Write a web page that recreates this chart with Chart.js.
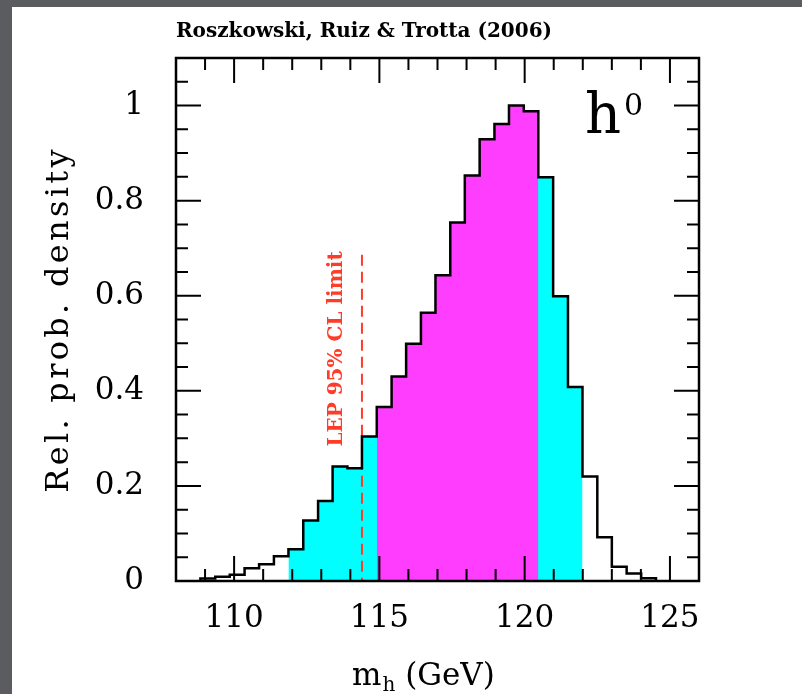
<!DOCTYPE html>
<html>
<head>
<meta charset="utf-8">
<script src="https://cdn.jsdelivr.net/npm/chart.js@4.4.1/dist/chart.umd.min.js"></script>
<style>
html,body{margin:0;padding:0;}
body{width:802px;height:694px;overflow:hidden;background:#5b5c5f;position:relative;}
#panel{position:absolute;left:12px;top:7px;right:0;bottom:0;background:#fff;}
#c{position:absolute;left:0;top:0;}
</style>
</head>
<body>
<div id="panel"></div>
<canvas id="c" width="802" height="694"></canvas>
<script>
// ── DATA ──
// histogram bin edges (GeV) and relative density per bin
const binEdges = [108.84,109.35,109.85,110.36,110.86,111.37,111.87,112.38,112.89,113.39,113.90,
  114.40,114.91,115.42,115.92,116.43,116.93,117.44,117.94,118.45,118.96,119.46,119.97,120.47,
  120.98,121.49,121.99,122.50,123.00,123.51,124.01,124.52];
const density = [0.005,0.009,0.013,0.027,0.035,0.052,0.067,0.127,0.168,0.241,0.237,0.304,
  0.366,0.430,0.499,0.564,0.643,0.754,0.853,0.929,0.961,1.000,0.988,0.849,0.599,0.408,
  0.220,0.092,0.030,0.016,0.006];
const range95 = [111.87, 121.99];   // cyan
const range68 = [114.91, 120.47];   // magenta
const lepLimit = 114.4;
const lepTop = 0.686;

const xMajor = [110,115,120,125];
const xMinor = [109,111,112,113,114,116,117,118,119,121,122,123,124];
const yMajor = [0,0.2,0.4,0.6,0.8,1];
const yMinor = [0.05,0.1,0.15,0.25,0.3,0.35,0.45,0.5,0.55,0.65,0.7,0.75,0.85,0.9,0.95,1.05];

const serif = "'DejaVu Serif', serif";

// ── BUILD STEP SERIES ──
function regionPoints(lo, hi){
  const pts = [];
  for(let i=0;i<density.length;i++){
    if(binEdges[i] >= lo-1e-6 && binEdges[i+1] <= hi+1e-6) pts.push({x:binEdges[i], y:density[i]});
  }
  pts.push({x:hi, y:pts[pts.length-1].y});
  return pts;
}
const outline = [{x:binEdges[0], y:0}];
density.forEach((d,i)=>outline.push({x:binEdges[i], y:d}));
outline.push({x:binEdges[binEdges.length-1], y:0});

// ── DECORATION: frame, inward ticks, labels ──
const decor = {
  id:'decor',
  afterDraw(chart){
    const {ctx, chartArea:a, scales:{x, y}} = chart;
    ctx.save();
    ctx.strokeStyle = '#000';
    ctx.lineWidth = 2;
    ctx.beginPath();
    const xt = (v,len)=>{const p=x.getPixelForValue(v);
      ctx.moveTo(p,a.bottom);ctx.lineTo(p,a.bottom-len);ctx.moveTo(p,a.top);ctx.lineTo(p,a.top+len);};
    const yt = (v,len)=>{const p=y.getPixelForValue(v);
      ctx.moveTo(a.left,p);ctx.lineTo(a.left+len,p);ctx.moveTo(a.right,p);ctx.lineTo(a.right-len,p);};
    xMajor.forEach(v=>xt(v,25)); xMinor.forEach(v=>xt(v,12));
    yMajor.forEach(v=>yt(v,25)); yMinor.forEach(v=>yt(v,12));
    ctx.stroke();
    ctx.lineWidth = 2.5;
    ctx.strokeRect(a.left, a.top, a.right-a.left, a.bottom-a.top);

    ctx.fillStyle = '#000';
    // h0 label
    ctx.textBaseline = 'alphabetic';
    ctx.textAlign = 'left';
    ctx.font = '56px ' + serif;
    ctx.fillText('h', a.right-114, a.top+75);
    ctx.font = '30px ' + serif;
    ctx.fillText('0', a.right-75, a.top+57);

    // x axis title m_h (GeV)
    let xx = a.left+176, yy = a.bottom+104;
    ctx.font = '31px ' + serif;
    ctx.fillText('m', xx, yy); xx += ctx.measureText('m').width;
    ctx.font = '20px ' + serif;
    ctx.fillText('h', xx+1, yy+6); xx += ctx.measureText('h').width+1;
    ctx.font = '31px ' + serif;
    ctx.fillText(' (GeV)', xx, yy);

    // y axis title
    ctx.save();
    ctx.translate(60, (a.top+a.bottom)/2);
    ctx.rotate(-Math.PI/2);
    ctx.textAlign = 'center';
    ctx.textBaseline = 'middle';
    ctx.font = '32px ' + serif;
    ctx.letterSpacing = '3.3px';
    ctx.fillText('Rel. prob. density', 0, 0);
    ctx.restore();

    // LEP label
    ctx.save();
    ctx.translate(x.getPixelForValue(lepLimit)-25, y.getPixelForValue(0.488));
    ctx.rotate(-Math.PI/2);
    ctx.textAlign = 'center';
    ctx.textBaseline = 'middle';
    ctx.fillStyle = '#ff3c28';
    ctx.font = 'bold 20px ' + serif;
    ctx.fillText('LEP 95% CL limit', 0, 0);
    ctx.restore();
    ctx.restore();
  }
};

new Chart(document.getElementById('c'), {
  type:'line',
  data:{
    datasets:[
      {data:outline, stepped:true, borderColor:'#000', borderWidth:2.5, pointRadius:0, fill:false, order:0},
      {data:[{x:lepLimit,y:lepTop},{x:lepLimit,y:0}], borderColor:'#ff3c28', borderWidth:2,
        borderDash:[11,6], pointRadius:0, fill:false, order:1},
      {data:regionPoints(range68[0],range68[1]), stepped:true, borderColor:'transparent', borderWidth:0,
        backgroundColor:'#ff3dff', pointRadius:0, fill:'origin', order:2},
      {data:regionPoints(range95[0],range95[1]), stepped:true, borderColor:'transparent', borderWidth:0,
        backgroundColor:'#00ffff', pointRadius:0, fill:'origin', order:3}
    ]
  },
  options:{
    responsive:false, animation:false, events:[],
    layout:{padding:{left:0,right:103,top:0,bottom:0}},
    plugins:{
      legend:{display:false}, tooltip:{enabled:false},
      title:{display:true, text:'Roszkowski, Ruiz & Trotta (2006)', align:'start', fullSize:false,
        color:'#000', font:{family:serif, size:20, weight:'bold', lineHeight:1.2},
        padding:{top:19.5,bottom:14.5}}
    },
    scales:{
      x:{type:'linear', min:108, max:126,
        grid:{display:false}, border:{display:false},
        afterFit(s){s.height = 113;},
        afterBuildTicks(s){s.ticks = xMajor.map(v=>({value:v}));},
        ticks:{color:'#000', font:{family:serif, size:31}, padding:11, maxRotation:0}},
      y:{min:0, max:1.1,
        grid:{display:false}, border:{display:false},
        afterFit(s){s.width = 176;},
        afterBuildTicks(s){s.ticks = yMajor.map(v=>({value:v}));},
        ticks:{color:'#000', font:{family:serif, size:31}, padding:24,
          callback:v=>(v===0||v===1)?String(v):v.toFixed(1)}}
    }
  },
  plugins:[decor]
});
</script>
</body>
</html>
